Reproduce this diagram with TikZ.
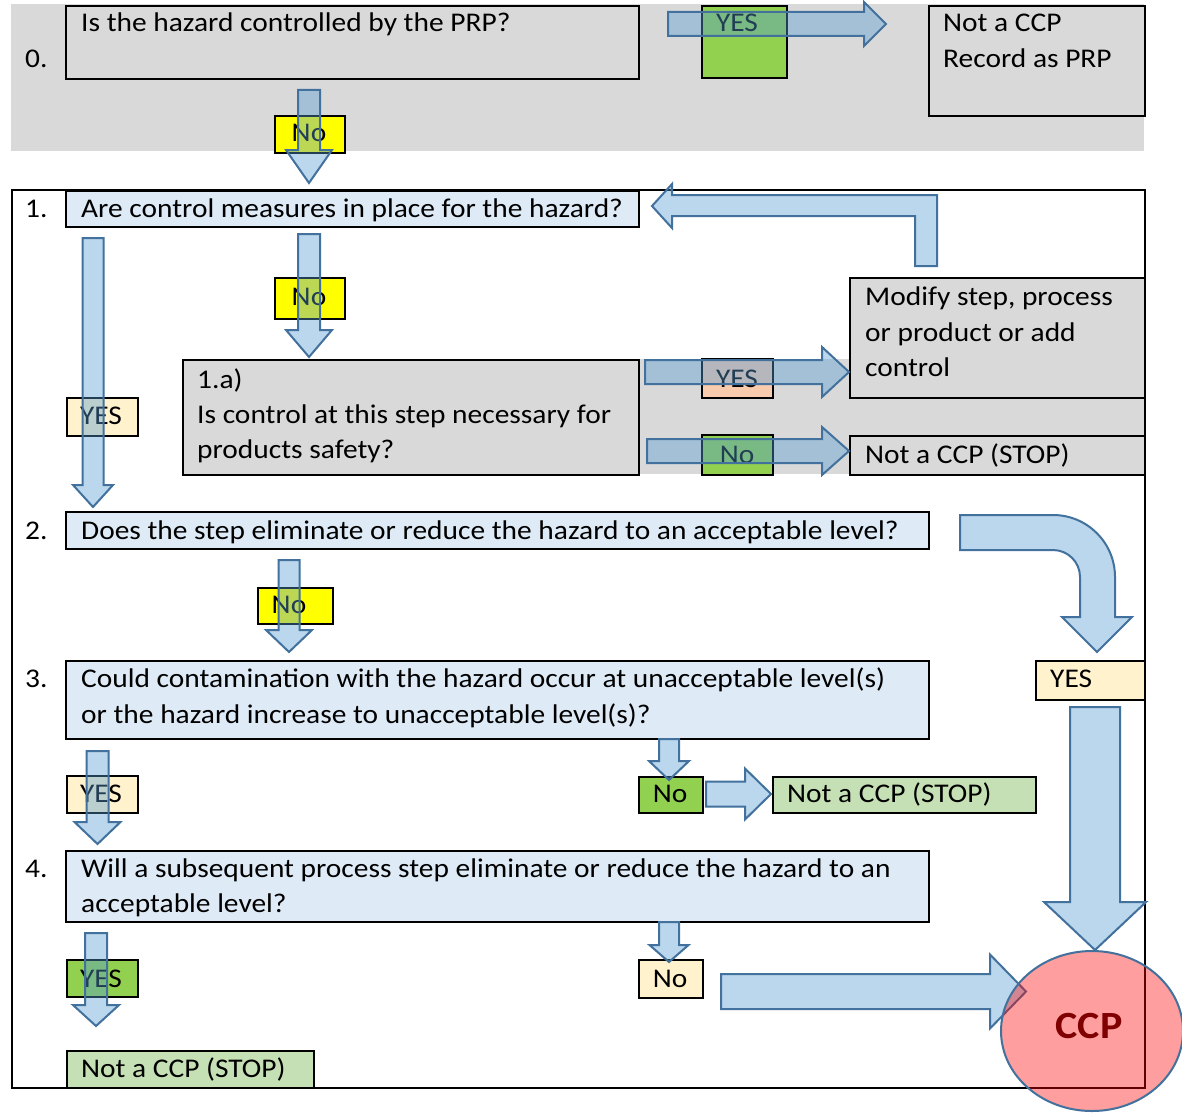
\documentclass[tikz,border=0pt]{standalone}
\usepackage{fontspec}
\setmainfont{Carlito}[FakeStretch=1.09]
\usetikzlibrary{shapes.geometric}
\definecolor{greyf}{HTML}{D9D9D9}
\definecolor{lblue}{HTML}{DEEBF7}
\definecolor{cream}{HTML}{FFF2CC}
\definecolor{peach}{HTML}{F8CBAD}
\definecolor{greenA}{HTML}{92D050}
\definecolor{lgreen}{HTML}{C5E0B4}
\definecolor{yellowA}{HTML}{FFFF00}
\definecolor{arrowfill}{HTML}{559BD4}
\definecolor{arrowline}{HTML}{41719C}
\definecolor{ccpred}{HTML}{7F0000}
\tikzset{
  box/.style={draw=black, line width=2pt, inner sep=0pt, anchor=north west},
  plain/.style={inner sep=0pt, anchor=north west},
  txt/.style={inner sep=0pt, font=\fontsize{27}{36}\selectfont, anchor=base west},
  ctxt/.style={inner sep=0pt, font=\fontsize{27}{36}\selectfont, anchor=base},
  blockarrow/.style={fill=arrowfill, fill opacity=0.4, draw=arrowline, line width=2pt, line join=miter}
}
% cx ytop yhead ytip halfshaft halfhead
\newcommand{\barrowdown}[6]{\draw[blockarrow] ({#1-#5},#2) -- ({#1+#5},#2) -- ({#1+#5},#3) -- ({#1+#6},#3) -- (#1,#4) -- ({#1-#6},#3) -- ({#1-#5},#3) -- cycle;}
% cy xleft xhead xtip halfshaft halfhead
\newcommand{\barrowright}[6]{\draw[blockarrow] (#2,{#1-#5}) -- (#3,{#1-#5}) -- (#3,{#1-#6}) -- (#4,#1) -- (#3,{#1+#6}) -- (#3,{#1+#5}) -- (#2,{#1+#5}) -- cycle;}
\begin{document}
\begin{tikzpicture}[x=1pt,y=-1pt]
\useasboundingbox (0,0) rectangle (1182,1113);
\fill[white] (0,0) rectangle (1182,1113);
% step 0 band
\node[plain, fill=greyf, minimum width=1133pt, minimum height=147pt] (band0) at (11,4) {};
% outer frame
\node[box, fill=white, minimum width=1133pt, minimum height=898pt] (frame) at (11,189) {};
\node[plain, fill=greyf, minimum width=506pt, minimum height=115pt] (band1a) at (638,359) {};
% boxes
\node[box, fill=greyf, minimum width=573pt, minimum height=73pt] (b0) at (65,5) {};
\node[box, fill=greenA, minimum width=85pt, minimum height=72pt] (y0) at (701,5) {};
\node[box, fill=greyf, minimum width=216pt, minimum height=110pt] (prp) at (928,5) {};
\node[box, fill=yellowA, minimum width=70pt, minimum height=37pt] (n0) at (274,115) {};
\node[box, fill=lblue, minimum width=573pt, minimum height=36pt] (b1) at (65,190) {};
\node[box, fill=yellowA, minimum width=70pt, minimum height=41pt] (n1) at (274,277) {};
\node[box, fill=cream, minimum width=71pt, minimum height=38pt] (y1) at (66,397) {};
\node[box, fill=greyf, minimum width=456pt, minimum height=115pt] (b1a) at (182,359) {};
\node[box, fill=greyf, minimum width=295pt, minimum height=120pt] (mod) at (849,277) {};
\node[box, fill=peach, minimum width=71pt, minimum height=39pt] (y1a) at (701,358) {};
\node[box, fill=greenA, minimum width=71pt, minimum height=40pt] (n1a) at (701,434) {};
\node[box, fill=greyf, minimum width=295pt, minimum height=39pt] (s1a) at (849,435) {};
\node[box, fill=lblue, minimum width=863pt, minimum height=37pt] (b2) at (65,511) {};
\node[box, fill=yellowA, minimum width=75pt, minimum height=36pt] (n2) at (257,587) {};
\node[box, fill=cream, minimum width=109pt, minimum height=39pt] (y2) at (1035,660) {};
\node[box, fill=lblue, minimum width=863pt, minimum height=78pt] (b3) at (65,660) {};
\node[box, fill=cream, minimum width=71pt, minimum height=37pt] (y3) at (66,775) {};
\node[box, fill=greenA, minimum width=64pt, minimum height=36pt] (n3) at (638,776) {};
\node[box, fill=lgreen, minimum width=263pt, minimum height=36pt] (s3) at (772,776) {};
\node[box, fill=lblue, minimum width=863pt, minimum height=71pt] (b4) at (65,850) {};
\node[box, fill=greenA, minimum width=71pt, minimum height=37pt] (y4) at (66,959) {};
\node[box, fill=cream, minimum width=64pt, minimum height=38pt] (n4) at (638,959) {};
\node[box, fill=lgreen, minimum width=247pt, minimum height=37pt] (s4) at (66,1050) {};
% texts
\node[txt] (t0n) at (25,68) {0.};
\node[txt] (t0) at (81,32) {Is the hazard controlled by the PRP?};
\node[ctxt] (ty0) at (737,32) {YES};
\node[txt] (tprpa) at (943,32) {Not a CCP};
\node[txt] (tprpb) at (943,68) {Record as PRP};
\node[ctxt] (tn0) at (309,142) {No};
\node[txt] (t1n) at (25,217) {1.};
\node[txt] (t1) at (81,217) {Are control measures in place for the hazard?};
\node[ctxt] (tn1) at (309,305) {No};
\node[txt] (tmoda) at (865,305) {Modify step, process};
\node[txt] (tmodb) at (865,341) {or product or add};
\node[txt] (tmodc) at (865,376) {control};
\node[txt] (t1aa) at (197,388) {1.a)};
\node[txt] (t1ab) at (197,423) {Is control at this step necessary for};
\node[txt] (t1ac) at (197,458) {products safety?};
\node[ctxt] (ty1) at (101,424) {YES};
\node[ctxt] (ty1a) at (737,387) {YES};
\node[ctxt] (tn1a) at (737,463) {No};
\node[txt] (ts1a) at (865,463) {Not a CCP (STOP)};
\node[txt] (t2n) at (25,539) {2.};
\node[txt] (t2) at (81,539) {Does the step eliminate or reduce the hazard to an acceptable level?};
\node[ctxt] (tn2) at (289,613) {No};
\node[txt] (ty2) at (1050,687) {YES};
\node[txt] (t3n) at (25,687) {3.};
\node[txt] (t3a) at (81,687) {Could contamination with the hazard occur at unacceptable level(s)};
\node[txt] (t3b) at (81,723) {or the hazard increase to unacceptable level(s)?};
\node[ctxt] (ty3) at (101,802) {YES};
\node[ctxt] (tn3) at (670,802) {No};
\node[txt] (ts3) at (787,802) {Not a CCP (STOP)};
\node[txt] (t4n) at (25,877) {4.};
\node[txt] (t4a) at (81,877) {Will a subsequent process step eliminate or reduce the hazard to an};
\node[txt] (t4b) at (81,912) {acceptable level?};
\node[ctxt] (ty4) at (101,987) {YES};
\node[ctxt] (tn4) at (670,987) {No};
\node[txt] (ts4) at (81,1077) {Not a CCP (STOP)};
% block arrows
\barrowright{24}{668}{864}{886}{12}{22}
\barrowdown{309}{90}{150}{183}{11}{23}
\barrowdown{309}{234}{330}{357}{11}{23}
\barrowdown{93}{238}{485}{507}{10.5}{20}
\draw[blockarrow] (915,266) -- (915,216) -- (672,216) -- (672,228) -- (652,206) -- (672,184) -- (672,195) -- (937,195) -- (937,266) -- cycle;
\barrowright{372}{645}{822}{849}{12}{25}
\barrowright{451}{647}{822}{849}{12}{24}
\barrowdown{289}{560}{630}{652}{10.5}{23}
\draw[blockarrow] (960,515) -- (1053,515) arc[start angle=90, end angle=0, radius=62pt] -- (1115,617) -- (1132,617) -- (1097,652) -- (1062,617) -- (1080,617) -- (1080,577) arc[start angle=0, end angle=90, radius=27pt] -- (960,550) -- cycle;
\barrowdown{669}{739}{761}{780}{10}{20}
\barrowright{794}{706}{745}{771}{12.5}{25.5}
\barrowdown{97.5}{751}{822}{844}{11}{23}
\barrowdown{669}{922}{945}{962}{10}{19.5}
\barrowdown{96}{933}{1005}{1026}{11}{23}
\barrowright{991.5}{721}{990}{1026}{17.5}{37}
\barrowdown{1095}{707}{902}{950}{25}{51}
% CCP
\node[ellipse, draw=arrowline, line width=2pt, fill=red, fill opacity=0.38, minimum width=182pt, minimum height=160pt, inner sep=0pt] (ccp) at (1092,1031) {};
\node[inner sep=0pt, anchor=base, font=\fontsize{38.5}{46}\selectfont\bfseries, text=ccpred] (tccp) at (1089,1038) {CCP};
\end{tikzpicture}
\end{document}
